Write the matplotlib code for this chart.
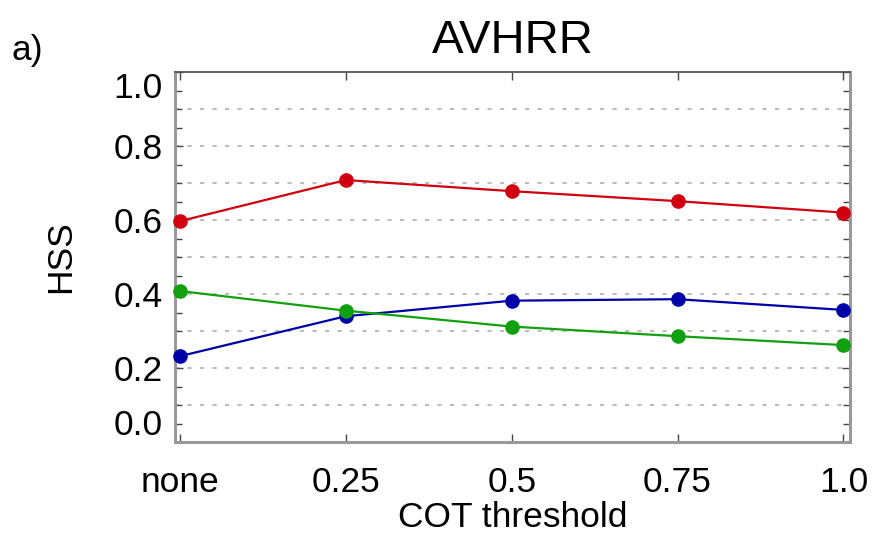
import matplotlib
matplotlib.use("Agg")
import matplotlib.pyplot as plt
from matplotlib.ticker import MultipleLocator

# values
thresholds = ["none", "0.25", "0.5", "0.75", "1.0"]
hss_red = [0.597, 0.708, 0.678, 0.651, 0.620]
hss_green = [0.408, 0.355, 0.312, 0.286, 0.262]
hss_blue = [0.232, 0.340, 0.382, 0.386, 0.357]
y_ticks = [0.0, 0.2, 0.4, 0.6, 0.8, 1.0]
y_ticklabels = ["0.0", "0.2", "0.4", "0.6", "0.8", "1.0"]

plt.rcParams['font.family'] = ['Liberation Sans', 'DejaVu Sans']

fig = plt.figure(figsize=(8.72, 5.35), dpi=100)
ax = fig.add_axes([0.2007, 0.1738, 0.7741, 0.6916])

x = list(range(len(thresholds)))

# dotted grid every 0.1
for g in [0.1, 0.2, 0.3, 0.4, 0.5, 0.6, 0.7, 0.8, 0.9]:
    ax.axhline(g, color='#b0b0b0', lw=1.2, ls=(0, (2.5, 5)), zorder=1)

ax.plot(x, hss_red, color='#d00010', lw=1.6, marker='o', ms=9.5, zorder=3, clip_on=False)
ax.plot(x, hss_blue, color='#0000a8', lw=1.6, marker='o', ms=9.5, zorder=3, clip_on=False)
ax.plot(x, hss_green, color='#10a010', lw=1.6, marker='o', ms=9.5, zorder=3, clip_on=False)

ax.set_xlim(-0.03, 4.04)
ax.set_ylim(0, 1.0)

ax.set_xticks(x)
ax.set_xticklabels(thresholds)
ax.set_yticks(y_ticks)
ax.set_yticklabels(y_ticklabels)
ax.yaxis.set_minor_locator(MultipleLocator(0.05))

ax.tick_params(axis='x', which='major', direction='in', length=6, width=1,
               color='#444444', top=True, labelsize=25.5, pad=17)
ax.tick_params(axis='y', which='both', direction='in', length=6, width=1,
               color='#444444', right=True, labelsize=25.5, pad=9)
ax.tick_params(axis='y', which='minor', length=5)

# IDL style: end labels pushed inside the axis range
labs = ax.get_yticklabels()
labs[0].set_verticalalignment('bottom')
labs[-1].set_verticalalignment('top')

for side in ['left', 'bottom', 'right']:
    ax.spines[side].set_color('#999999')
    ax.spines[side].set_linewidth(2.2)
ax.spines['top'].set_color('#555555')
ax.spines['top'].set_linewidth(1.3)

ax.set_xlabel("COT threshold", fontsize=25.5, labelpad=2)
ax.set_ylabel("HSS", fontsize=25.5, labelpad=26)
ax.set_title("AVHRR", fontsize=34, pad=14)
fig.text(0.013, 0.905, "a)", fontsize=25.5, va='center', ha='left')

fig.savefig("out.png", dpi=100)
